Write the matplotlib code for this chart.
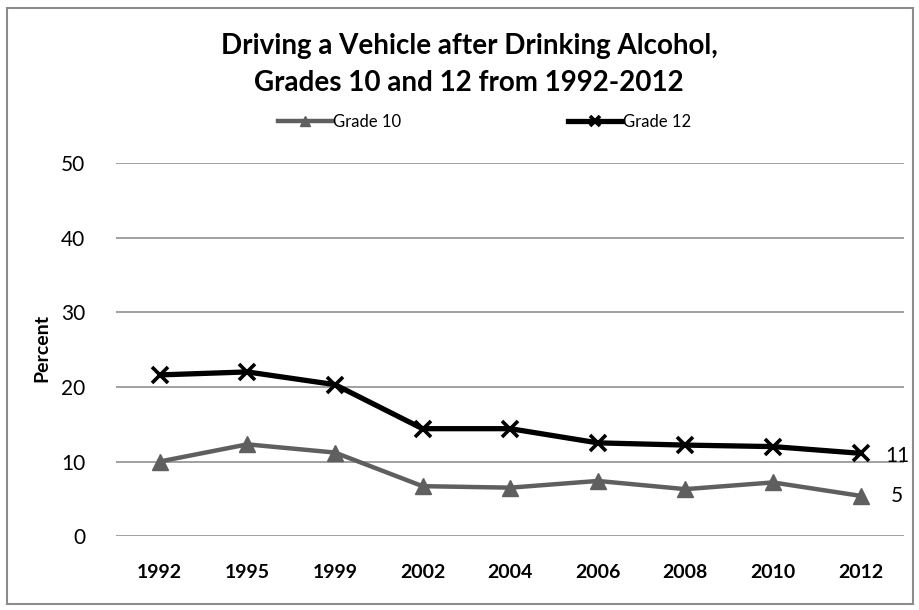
import matplotlib
matplotlib.use("Agg")
import matplotlib.pyplot as plt
from matplotlib.patches import Rectangle

plt.rcParams['font.family'] = ['Lato', 'DejaVu Sans']

years = ["1992", "1995", "1999", "2002", "2004", "2006", "2008", "2010", "2012"]
grade10 = [10.0, 12.3, 11.2, 6.7, 6.5, 7.4, 6.3, 7.2, 5.4]
grade12 = [21.6, 22.0, 20.3, 14.4, 14.4, 12.5, 12.2, 12.0, 11.1]
end_labels = ["5", "11"]

fig = plt.figure(figsize=(9.2, 6.1), dpi=100)
ax = fig.add_axes([0.126, 0.121, 0.857, 0.612])

x = list(range(len(years)))
ax.plot(x, grade10, color="#5f5f5f", linewidth=3.2, marker="^", markersize=12,
        label="Grade 10", zorder=3)
ax.plot(x, grade12, color="black", linewidth=3.8, marker="x", markersize=12,
        markeredgewidth=2.6, label="Grade 12", zorder=4)

# value labels at the end of each line
ax.annotate(end_labels[0], (x[-1], grade10[-1]), xytext=(22, 0), textcoords="offset points",
            va="center", ha="left", fontsize=15)
ax.annotate(end_labels[1], (x[-1], grade12[-1]), xytext=(18, -2), textcoords="offset points",
            va="center", ha="left", fontsize=15)

ax.set_xlim(-0.5, len(years) - 0.5)
ax.set_ylim(0, 50)
ax.set_yticks(range(0, 51, 10))
ax.set_xticks(x)
ax.set_xticklabels(years, fontsize=14, fontweight="bold")
ax.tick_params(axis="y", labelsize=15, length=0, pad=22)
ax.tick_params(axis="x", length=0, pad=20)
ax.grid(axis="y", color="#a0a0a0", linewidth=1.4)
ax.set_axisbelow(True)
for s in ax.spines.values():
    s.set_visible(False)

fig.text(0.046, 0.43, "Percent", rotation=90, fontsize=14, fontweight="bold",
         ha="center", va="center")

fig.text(0.51, 0.925, "Driving a Vehicle after Drinking Alcohol,", fontsize=20,
         fontweight="bold", ha="center", va="center")
fig.text(0.51, 0.864, "Grades 10 and 12 from 1992-2012", fontsize=20,
         fontweight="bold", ha="center", va="center")

leg = fig.legend(loc="center", bbox_to_anchor=(0.527, 0.8), ncol=2, frameon=False,
                 fontsize=12, columnspacing=10, handlelength=3.2, handletextpad=0.1,
                 markerscale=0.6)

fig.patches.append(Rectangle((0.008, 0.01), 0.984, 0.977, transform=fig.transFigure,
                             fill=False, edgecolor="#8c8c8c", linewidth=1.5))

fig.savefig("out.png", dpi=100)
